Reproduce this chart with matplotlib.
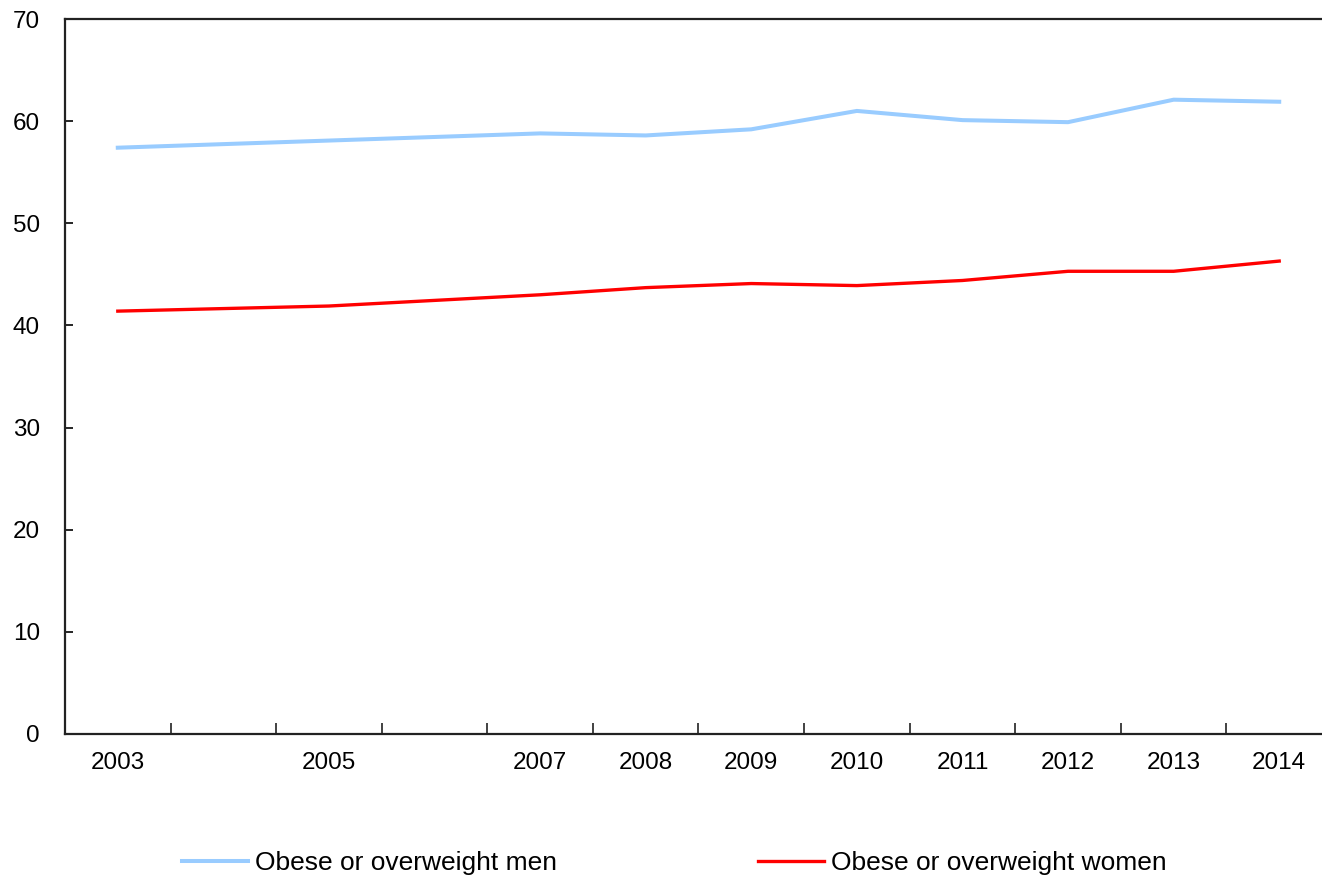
import matplotlib
matplotlib.use('Agg')
from matplotlib import pyplot as plt
import numpy as np

plt.rcParams.update({
    'font.family': ['Liberation Sans', 'DejaVu Sans'],
    'font.size': 17.5,
})

# category axis (2004 and 2006 have no label / no data)
categories = ['2003', '', '2005', '', '2007', '2008', '2009', '2010', '2011', '2012', '2013', '2014']
years = ['2003', '2005', '2007', '2008', '2009', '2010', '2011', '2012', '2013', '2014']
men = [57.4, 58.1, 58.8, 58.6, 59.2, 61.0, 60.1, 59.9, 62.1, 61.9]
women = [41.4, 41.9, 43.0, 43.7, 44.1, 43.9, 44.4, 45.3, 45.3, 46.3]

xpos = [categories.index(y) for y in years]

fig = plt.figure(figsize=(13.22, 8.77), dpi=100)
ax = fig.add_axes([65/1322, 143/877, 1267/1322, 715/877])

ax.plot(xpos, men, color='#99CCFF', lw=2.9, label='Obese or overweight men')
ax.plot(xpos, women, color='#FF0000', lw=2.4, label='Obese or overweight women')

ax.set_ylim(0, 70)
ax.set_yticks(np.arange(0, 71, 10))
ax.set_xlim(-0.5, len(categories) - 0.5)

# tick marks at category boundaries, labels at centres
ax.set_xticks(np.arange(0.5, len(categories) - 0.5, 1))
ax.set_xticklabels([])
ax.set_xticks(np.arange(len(categories)), minor=True)
ax.set_xticklabels(categories, minor=True)
ax.tick_params(axis='x', which='major', direction='in', length=8, width=1.2, color='#222222')
ax.tick_params(axis='x', which='minor', length=0, pad=13, labelsize=17.5)
ax.tick_params(axis='y', direction='in', length=6, width=1.2, pad=18, labelsize=17.5)

for s in ['left', 'bottom', 'top']:
    ax.spines[s].set_linewidth(1.6)
    ax.spines[s].set_color('#222222')
ax.spines['right'].set_visible(False)

fig.legend(loc='center', bbox_to_anchor=(0.51, 0.016), ncol=2, frameon=False,
           handlelength=2.5, handletextpad=0.27, columnspacing=7.6, fontsize=19)

fig.savefig('out.png', dpi=100)
